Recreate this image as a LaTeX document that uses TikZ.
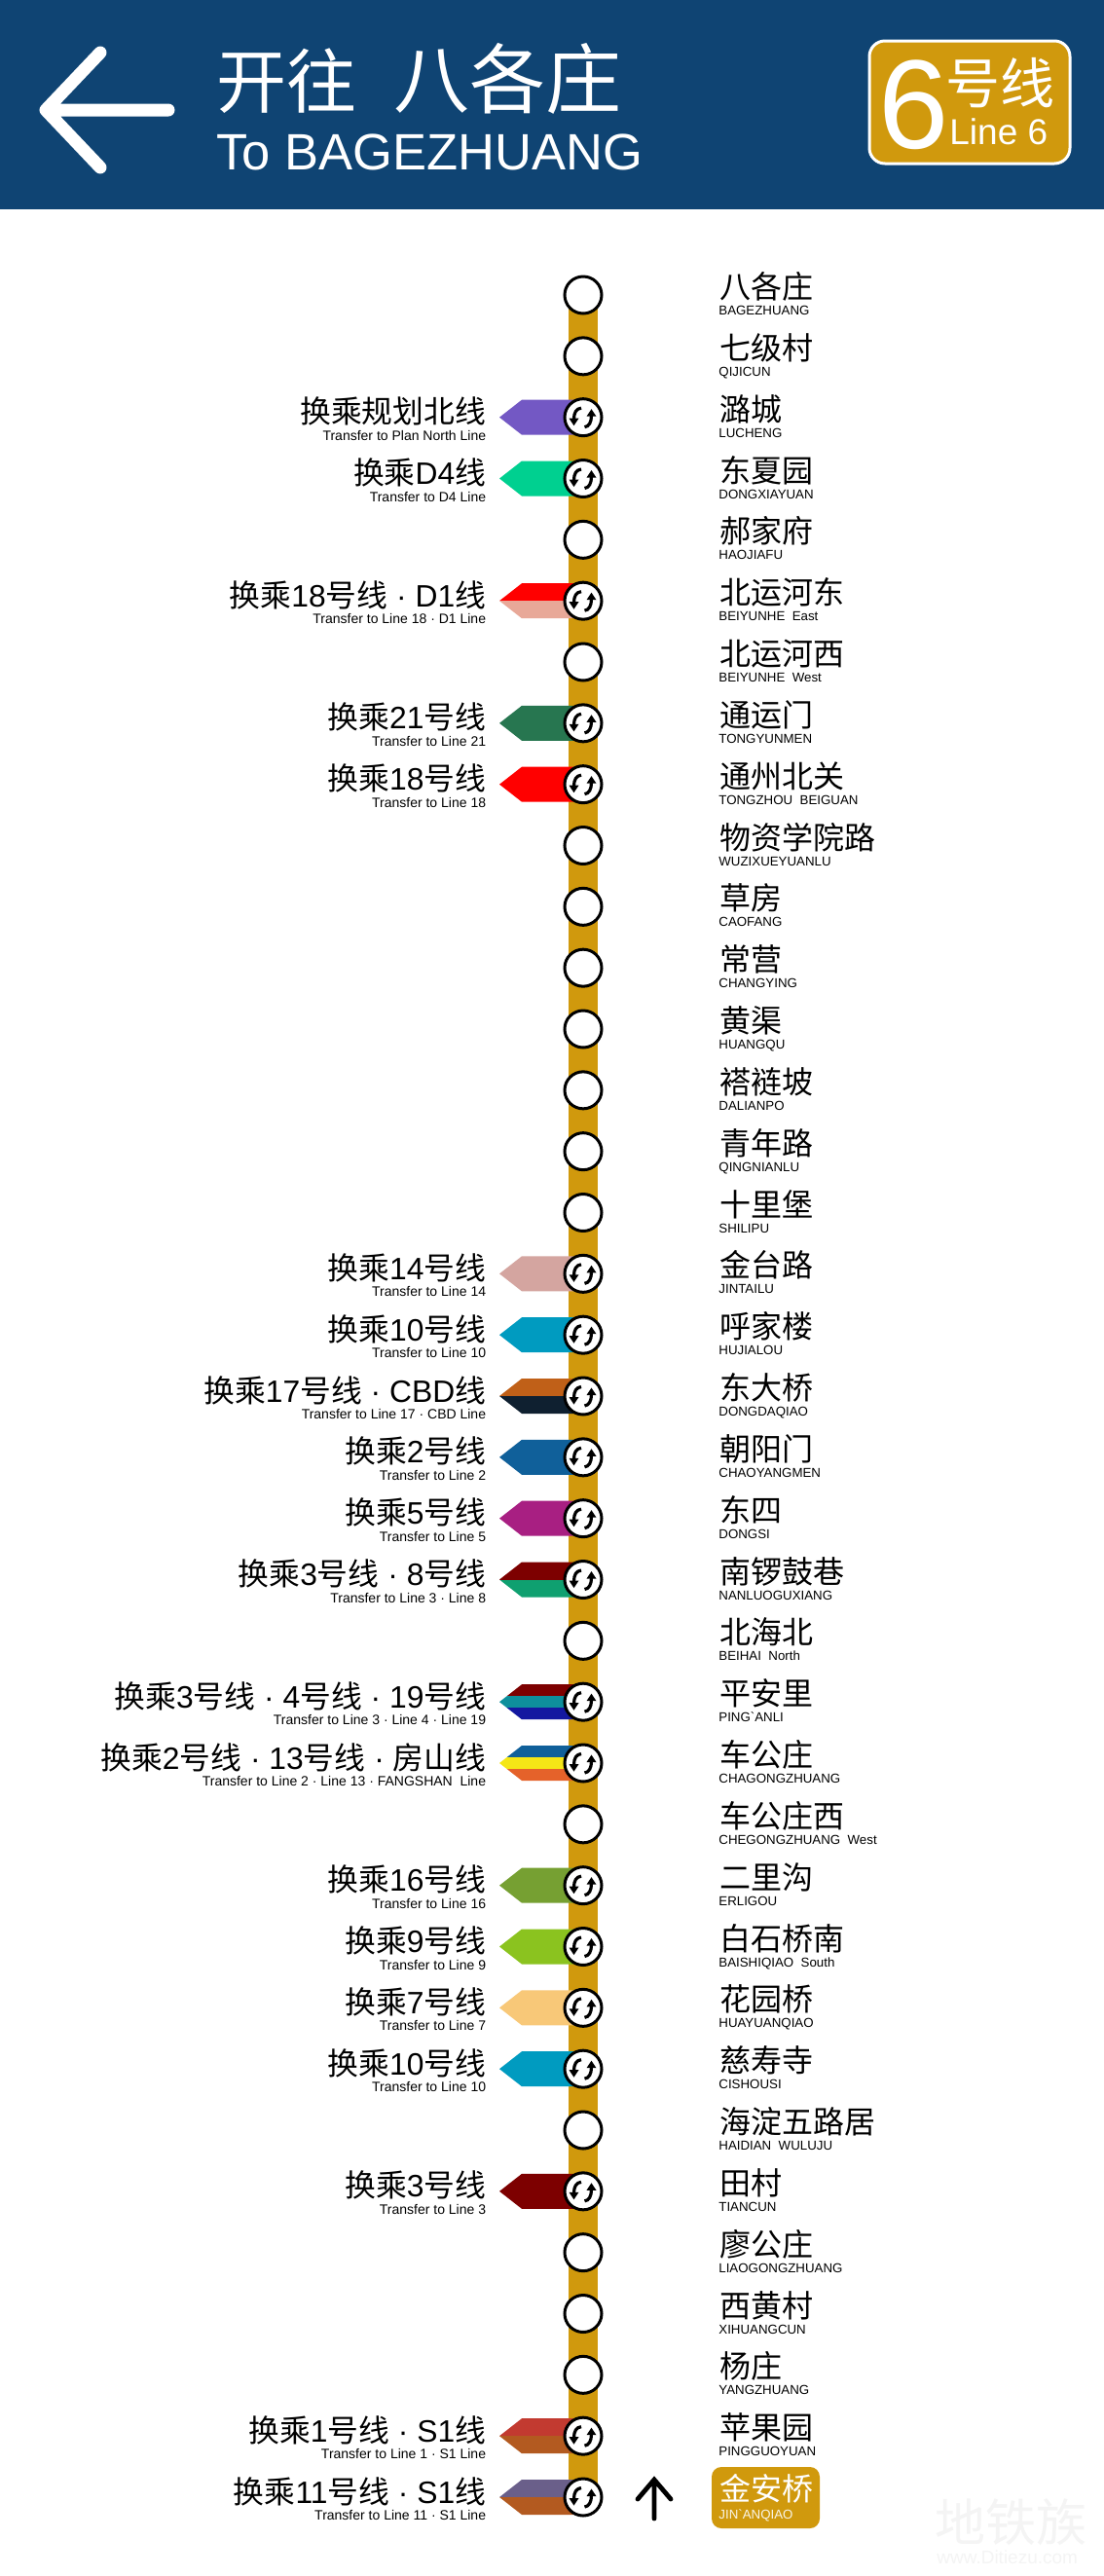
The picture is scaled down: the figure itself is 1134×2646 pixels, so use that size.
\documentclass[tikz,border=0pt]{standalone}
\usepackage{fontspec}
\setmainfont{Liberation Sans}
\newfontfamily\plainf{Liberation Sans}
\newfontfamily\cjk{Noto Sans CJK SC}
\newcommand\zh[1]{{\cjk #1}}
\newcommand\fsz[1]{\fontsize{#1}{#1}\selectfont}
\definecolor{lineSix}{RGB}{208,153,13}
\definecolor{headBlue}{RGB}{15,68,115}
\definecolor{wmark}{gray}{0.955}
\definecolor{purpleN}{RGB}{115,88,196}
\definecolor{greenD}{RGB}{0,208,144}
\definecolor{redL}{RGB}{255,0,0}
\definecolor{pinkD}{RGB}{232,168,152}
\definecolor{greenT}{RGB}{39,118,80}
\definecolor{pinkF}{RGB}{212,165,160}
\definecolor{cyanT}{RGB}{0,155,192}
\definecolor{orangeS}{RGB}{192,96,24}
\definecolor{navyC}{RGB}{15,32,48}
\definecolor{blueT}{RGB}{16,96,154}
\definecolor{magF}{RGB}{168,31,130}
\definecolor{maroon}{RGB}{125,0,0}
\definecolor{greenE}{RGB}{15,160,112}
\definecolor{tealF}{RGB}{14,143,156}
\definecolor{indigoN}{RGB}{20,24,160}
\definecolor{yellowT}{RGB}{245,230,22}
\definecolor{orangeF}{RGB}{229,98,42}
\definecolor{greenS}{RGB}{118,160,50}
\definecolor{limeN}{RGB}{139,195,31}
\definecolor{sandS}{RGB}{248,200,120}
\definecolor{redO}{RGB}{194,58,48}
\definecolor{brownS}{RGB}{179,90,32}
\definecolor{slateE}{RGB}{106,95,138}
\pgfdeclarelayer{back}
\pgfsetlayers{back,main}
\tikzset{
  stop/.style={circle,draw=black,fill=white,line width=1.5pt,minimum size=19pt,inner sep=0pt},
  cnright/.style={anchor=base west,inner sep=0pt,font=\fsz{16}},
  pyright/.style={anchor=base west,inner sep=0pt,font=\fsz{6.65}},
  cnleft/.style={anchor=base east,inner sep=0pt,font=\fsz{15.9}},
  pyleft/.style={anchor=base east,inner sep=0pt,font=\fsz{7}},
  whitetext/.style={text=white,inner sep=0pt},
  iconline/.style={line width=1.6pt,black},
}
% station: number, Chinese name, romanised name
\newcommand\stn[3]{%
  \coordinate (p#1) at (599,{303+62.833*(#1-1)});
  \node[stop] (c#1) at (p#1) {};
  \node[cnright] (n#1) at ([shift={(739,3.5)}]0,{303+62.833*(#1-1)}) {\zh{#2}};
  \node[pyright] (e#1) at ([shift={(738,20.5)}]0,{303+62.833*(#1-1)}) {#3};
}
% transfer icon on station n
\newcommand\xfer[1]{%
  \begin{scope}[shift={(c#1)}]
    \draw[iconline] (-2,-9.5) .. controls (-7,-9) and (-9.5,-5) .. (-9.5,2);
    \fill (-14.5,1) -- (-4.5,1) -- (-9.5,8.5) -- cycle;
    \draw[iconline] (1.5,10) .. controls (6,9.5) and (8.5,5) .. (8.5,-2);
    \fill (3.5,-1) -- (13.5,-1) -- (8.5,-8.5) -- cycle;
  \end{scope}}
\newcommand\flagpath{(-86,0) -- (-63,-18) -- (-8,-18) -- (-8,18) -- (-63,18) -- cycle}
\newcommand\flagA[2]{%
  \begin{pgfonlayer}{back}\begin{scope}[shift={(p#1)}]
    \fill[#2] \flagpath;
  \end{scope}\end{pgfonlayer}}
\newcommand\flagB[3]{%
  \begin{pgfonlayer}{back}\begin{scope}[shift={(p#1)}]
    \clip \flagpath;
    \fill[#2] (-90,-20) rectangle (0,0);
    \fill[#3] (-90,0) rectangle (0,20);
  \end{scope}\end{pgfonlayer}}
\newcommand\flagC[4]{%
  \begin{pgfonlayer}{back}\begin{scope}[shift={(p#1)}]
    \clip \flagpath;
    \fill[#2] (-90,-20) rectangle (0,-6);
    \fill[#3] (-90,-6) rectangle (0,6);
    \fill[#4] (-90,6) rectangle (0,20);
  \end{scope}\end{pgfonlayer}}
% transfer label: station, Chinese line, English line
\newcommand\xlab[3]{%
  \node[cnleft] (tc#1) at ([shift={(499.5,6)}]0,{303+62.833*(#1-1)}) {#2};
  \node[pyleft] (te#1) at ([shift={(499.5,23.5)}]0,{303+62.833*(#1-1)}) {#3};
}
\begin{document}
\begin{tikzpicture}[x=0.5pt,y=-0.5pt]
\useasboundingbox (0,0) rectangle (1134,2646);
\begin{pgfonlayer}{back}
  \fill[white] (0,0) rectangle (1134,2646);
\end{pgfonlayer}
% header
\fill[headBlue] (0,0) rectangle (1134,214.5);
\coordinate (tip) at (47,113);
\coordinate (shaft) at (173,113);
\coordinate (barbU) at (103,54);
\coordinate (barbD) at (103,172);
\draw[white,line width=6.5pt,line cap=round,line join=round] (shaft) -- (tip) (barbU) -- (tip) -- (barbD);
\node[whitetext,anchor=base west,font=\fsz{36}] (h1) at (222,110) {\zh{开往}};
\node[whitetext,anchor=base west,font=\fsz{39}] (h2) at (404,110) {\zh{八各庄}};
\node[whitetext,anchor=base west,font=\fsz{26.25}] (h3) at (222,174) {To BAGEZHUANG};
\node[draw=white,fill=lineSix,line width=1.5pt,rounded corners=8pt,minimum width=103pt,minimum height=63pt,inner sep=0pt] (badge) at (996,105) {};
\node[whitetext,anchor=base west,font=\fsz{65}] (b6) at (902,152) {6};
\node[whitetext,anchor=base west,font=\fsz{28}] (b1) at (971,106) {\zh{号线}};
\node[whitetext,anchor=base west,font=\fsz{18.5}] (b2) at (975,148) {Line 6};
% stations
\stn{1}{八各庄}{BAGEZHUANG}
\stn{2}{七级村}{QIJICUN}
\stn{3}{潞城}{LUCHENG}
\stn{4}{东夏园}{DONGXIAYUAN}
\stn{5}{郝家府}{HAOJIAFU}
\stn{6}{北运河东}{BEIYUNHE\ \ East}
\stn{7}{北运河西}{BEIYUNHE\ \ West}
\stn{8}{通运门}{TONGYUNMEN}
\stn{9}{通州北关}{TONGZHOU\ \ BEIGUAN}
\stn{10}{物资学院路}{WUZIXUEYUANLU}
\stn{11}{草房}{CAOFANG}
\stn{12}{常营}{CHANGYING}
\stn{13}{黄渠}{HUANGQU}
\stn{14}{褡裢坡}{DALIANPO}
\stn{15}{青年路}{QINGNIANLU}
\stn{16}{十里堡}{SHILIPU}
\stn{17}{金台路}{JINTAILU}
\stn{18}{呼家楼}{HUJIALOU}
\stn{19}{东大桥}{DONGDAQIAO}
\stn{20}{朝阳门}{CHAOYANGMEN}
\stn{21}{东四}{DONGSI}
\stn{22}{南锣鼓巷}{NANLUOGUXIANG}
\stn{23}{北海北}{BEIHAI\ \ North}
\stn{24}{平安里}{{\plainf PING`ANLI}}
\stn{25}{车公庄}{CHAGONGZHUANG}
\stn{26}{车公庄西}{CHEGONGZHUANG\ \ West}
\stn{27}{二里沟}{ERLIGOU}
\stn{28}{白石桥南}{BAISHIQIAO\ \ South}
\stn{29}{花园桥}{HUAYUANQIAO}
\stn{30}{慈寿寺}{CISHOUSI}
\stn{31}{海淀五路居}{HAIDIAN\ \ WULUJU}
\stn{32}{田村}{TIANCUN}
\stn{33}{廖公庄}{LIAOGONGZHUANG}
\stn{34}{西黄村}{XIHUANGCUN}
\stn{35}{杨庄}{YANGZHUANG}
\stn{36}{苹果园}{PINGGUOYUAN}
% terminal
\coordinate (p37) at (599,2565);
\node[stop] (c37) at (p37) {};
\node[fill=lineSix,rounded corners=5pt,minimum width=55.5pt,minimum height=31.5pt,inner sep=0pt] (term) at (786.5,2565.5) {};
\node[whitetext,anchor=base west,font=\fsz{16}] (n37) at (739,2568) {\zh{金安桥}};
\node[anchor=base west,inner sep=0pt,font=\fsz{6.65},text=white!90!lineSix] (e37) at (738,2587) {{\plainf JIN`ANQIAO}};
% line
\begin{pgfonlayer}{back}
  \draw[lineSix,line width=15pt] (c1.center) -- (c37.center);
\end{pgfonlayer}
% direction arrow
\coordinate (upB) at (672,2587);
\coordinate (upT) at (672,2547);
\coordinate (upL) at (655,2567);
\coordinate (upR) at (689,2567);
\draw[black,line width=2.4pt,line cap=round,line join=miter] (upB) -- (upT) (upL) -- (upT) -- (upR);
% transfer flags, icons, labels
\foreach \i in {3,4,6,8,9,17,18,19,20,21,22,24,25,27,28,29,30,32,36,37} {\xfer{\i}}
\flagA{3}{purpleN}
\xlab{3}{\zh{换乘规划北线}}{Transfer to Plan North Line}
\flagA{4}{greenD}
\xlab{4}{\zh{换乘}D4\zh{线}}{Transfer to D4 Line}
\flagB{6}{redL}{pinkD}
\xlab{6}{\zh{换乘}18\zh{号线} · D1\zh{线}}{Transfer to Line 18\ · D1 Line}
\flagA{8}{greenT}
\xlab{8}{\zh{换乘}21\zh{号线}}{Transfer to Line 21}
\flagA{9}{redL}
\xlab{9}{\zh{换乘}18\zh{号线}}{Transfer to Line 18}
\flagA{17}{pinkF}
\xlab{17}{\zh{换乘}14\zh{号线}}{Transfer to Line 14}
\flagA{18}{cyanT}
\xlab{18}{\zh{换乘}10\zh{号线}}{Transfer to Line 10}
\flagB{19}{orangeS}{navyC}
\xlab{19}{\zh{换乘}17\zh{号线} · CBD\zh{线}}{Transfer to Line 17\ · CBD Line}
\flagA{20}{blueT}
\xlab{20}{\zh{换乘}2\zh{号线}}{Transfer to Line 2}
\flagA{21}{magF}
\xlab{21}{\zh{换乘}5\zh{号线}}{Transfer to Line 5}
\flagB{22}{maroon}{greenE}
\xlab{22}{\zh{换乘}3\zh{号线} · 8\zh{号线}}{Transfer to Line 3\ · Line 8}
\flagC{24}{maroon}{tealF}{indigoN}
\xlab{24}{\zh{换乘}3\zh{号线} · 4\zh{号线} · 19\zh{号线}}{Transfer to Line 3\ · Line 4\ · Line 19}
\flagC{25}{blueT}{yellowT}{orangeF}
\xlab{25}{\zh{换乘}2\zh{号线} · 13\zh{号线} · \zh{房山线}}{Transfer to Line 2\ · Line 13\ · FANGSHAN\ \ Line}
\flagA{27}{greenS}
\xlab{27}{\zh{换乘}16\zh{号线}}{Transfer to Line 16}
\flagA{28}{limeN}
\xlab{28}{\zh{换乘}9\zh{号线}}{Transfer to Line 9}
\flagA{29}{sandS}
\xlab{29}{\zh{换乘}7\zh{号线}}{Transfer to Line 7}
\flagA{30}{cyanT}
\xlab{30}{\zh{换乘}10\zh{号线}}{Transfer to Line 10}
\flagA{32}{maroon}
\xlab{32}{\zh{换乘}3\zh{号线}}{Transfer to Line 3}
\flagB{36}{redO}{brownS}
\xlab{36}{\zh{换乘}1\zh{号线} · S1\zh{线}}{Transfer to Line 1\ · S1 Line}
\flagB{37}{slateE}{brownS}
\xlab{37}{\zh{换乘}11\zh{号线} · S1\zh{线}}{Transfer to Line 11\ · S1 Line}
% watermark
\node[anchor=base west,inner sep=0pt,text=wmark,font=\fsz{26}] (wm1) at (960,2610) {\zh{地铁族}};
\node[anchor=base west,inner sep=0pt,text=wmark,font=\fsz{9.5}] (wm2) at (962,2633) {www.Ditiezu.com};
\end{tikzpicture}
\end{document}
